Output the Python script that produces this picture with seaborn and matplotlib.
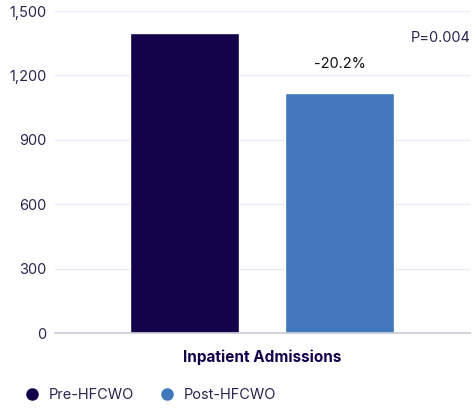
import matplotlib
matplotlib.use('Agg')
import matplotlib.pyplot as plt
import seaborn as sns
import pandas as pd
from matplotlib.lines import Line2D

# 데이터
groups = ['Pre-HFCWO', 'Post-HFCWO']
admissions = [1400, 1118]
colors = ['#13014a', '#4077bd']
yticks = [0, 300, 600, 900, 1200, 1500]

df = pd.DataFrame({'group': groups, 'value': admissions})

sns.set_style('white')
plt.rcParams['font.family'] = ['Inter', 'DejaVu Sans']

fig = plt.figure(figsize=(4.77, 4.09), dpi=100)
ax = fig.add_axes([0.1153, 0.1858, 0.87, 0.7872])

sns.barplot(data=df, x='group', y='value', hue='group', palette=colors,
            width=0.70, legend=False, ax=ax, saturation=1)

ax.set_xlim(-0.835, 1.842)
ax.set_ylim(0, 1500)
ax.set_yticks(yticks)
ax.set_yticklabels([f'{v:,}' for v in yticks], color='#2a2550', fontsize=10.5)
ax.tick_params(axis='y', length=0, pad=6)
ax.set_xticks([])
ax.yaxis.grid(True, color='#e6ecf5', linewidth=1)
ax.set_axisbelow(True)
for s in ['top', 'right', 'left']:
    ax.spines[s].set_visible(False)
ax.spines['bottom'].set_color('#c8ccd6')
ax.spines['bottom'].set_linewidth(1.2)

ax.set_xlabel('Inpatient Admissions', fontsize=11, fontweight='bold', color='#13014a', labelpad=12)
ax.set_ylabel('')

# 주석
ax.text(1, 1255, '-20.2%', ha='center', va='center', fontsize=10.5, color='#111111')
ax.text(1.85, 1375, 'P=0.004', ha='right', va='center', fontsize=10.5, color='#2a2550')

# 범례
handles = [Line2D([0], [0], marker='o', linestyle='', markersize=8,
                  markerfacecolor=c, markeredgecolor=c) for c in colors]
fig.legend(handles, groups, loc='lower left', bbox_to_anchor=(0.01, -0.015), ncol=2,
           frameon=False, fontsize=10.5, handletextpad=0.1, columnspacing=1.3,
           labelcolor='#2a2550')

fig.savefig('out.png', dpi=100)
